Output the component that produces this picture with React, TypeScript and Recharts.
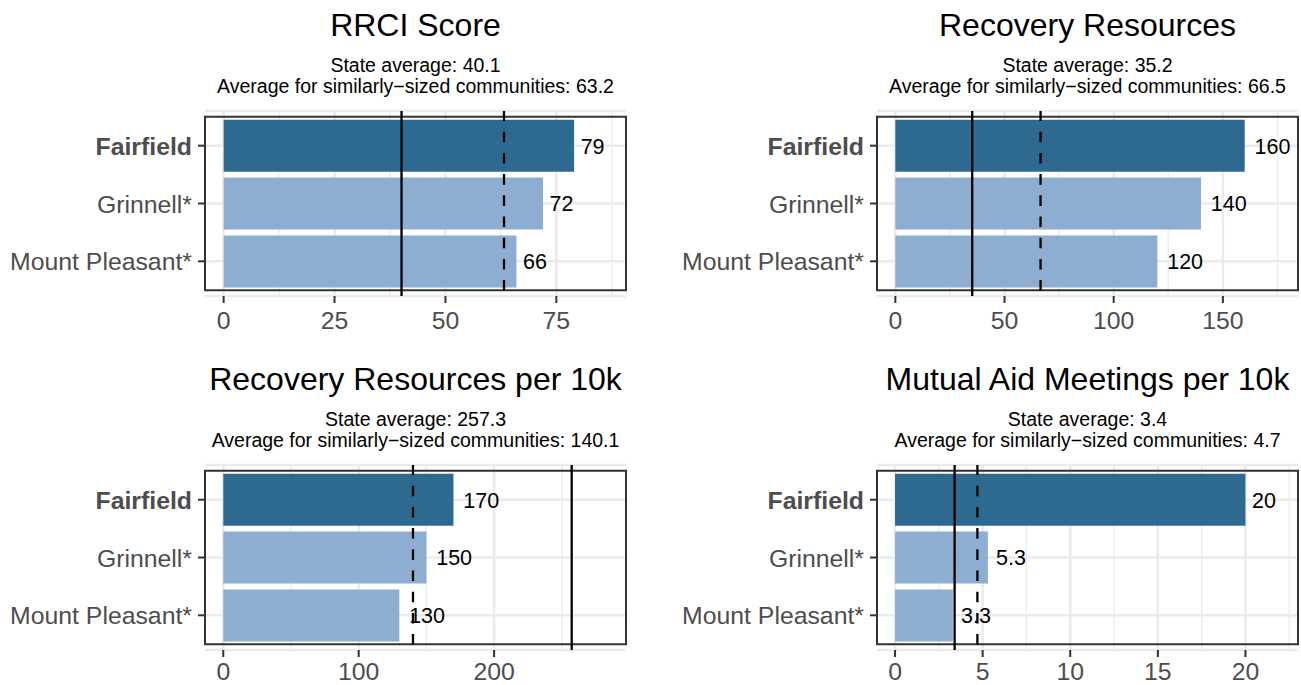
import React from "react";
import {
  BarChart,
  Bar,
  XAxis,
  YAxis,
  CartesianGrid,
  ReferenceLine,
  ReferenceArea,
  Cell,
  LabelList,
} from "recharts";

const communities = ["Fairfield", "Grinnell*", "Mount Pleasant*"];
const highlighted = "Fairfield";

const panelTitles = [
  "RRCI Score",
  "Recovery Resources",
  "Recovery Resources per 10k",
  "Mutual Aid Meetings per 10k",
];
const rrciScores = [79, 72, 66];
const recoveryResources = [160, 140, 120];
const resourcesPer10k = [170, 150, 130];
const meetingsPer10k = [20, 5.3, 3.3];
const stateAverages = [40.1, 35.2, 257.3, 3.4];
const similarAverages = [63.2, 66.5, 140.1, 4.7];
const majorTicks = [
  [0, 25, 50, 75],
  [0, 50, 100, 150],
  [0, 100, 200],
  [0, 5, 10, 15, 20],
];
const minorTicks = [
  [12.5, 37.5, 62.5, 87.5],
  [25, 75, 125, 175],
  [50, 150, 250],
  [2.5, 7.5, 12.5, 17.5, 22.5],
];
const axisLimits = [
  [-4.2, 90.7],
  [-8.4, 184.4],
  [-13.5, 297.4],
  [-1.03, 23.0],
];
const panelValues = [rrciScores, recoveryResources, resourcesPer10k, meetingsPer10k];

const FONT = '"Liberation Sans", Arial, Helvetica, sans-serif';
const DARK = "#2e6a8f";
const LIGHT = "#8daed1";
const GRID = "#ebebeb";
const INK = "#333333";

// rough Arial advance widths, enough to mimic ggplot's hjust on the labels
function textWidth(s: string, size: number) {
  let w = 0;
  for (const ch of s) w += ch === "." ? 0.278 : 0.556;
  return w * size;
}

function ValueLabel(props: any) {
  const { x, y, width, height, value } = props;
  const text = String(value);
  const gap = 0.28 * textWidth(text, 21);
  return (
    <text
      x={Number(x) + Number(width) + gap}
      y={Number(y) + Number(height) / 2 + 7.8}
      fontSize={21.5}
      fontFamily={FONT}
      fill="#000000"
    >
      {text}
    </text>
  );
}

function CommunityTick(props: any) {
  const { x, y, payload } = props;
  return (
    <text
      x={x}
      y={y}
      dy={9}
      textAnchor="end"
      fontSize={24.8}
      fontFamily={FONT}
      fill="#4d4d4d"
      fontWeight={payload.value === highlighted ? "bold" : "normal"}
    >
      {payload.value}
    </text>
  );
}

const PLOT_TOP = 111;
const PLOT_HEIGHT = 185;

function MetricPanel({ index }: { index: number }) {
  const isRight = index % 2 === 1;
  const isBottom = index >= 2;
  const width = isRight ? 651 : 650;
  const height = isBottom ? 331 : 342;
  const axisWidth = isRight ? 227 : 205;
  const rightMargin = isRight ? 3 : 24;
  const domain = axisLimits[index];
  const data = communities.map((name, i) => ({ name, value: panelValues[index][i] }));

  return (
    <BarChart
      width={width}
      height={height}
      data={data}
      layout="vertical"
      margin={{ top: PLOT_TOP, right: rightMargin, bottom: 0, left: 0 }}
    >
      <CartesianGrid
        horizontal={false}
        verticalValues={minorTicks[index]}
        stroke={GRID}
        strokeWidth={1.3}
      />
      <CartesianGrid verticalValues={majorTicks[index]} stroke={GRID} strokeWidth={2.5} />
      <XAxis
        type="number"
        domain={domain}
        allowDataOverflow
        ticks={majorTicks[index]}
        interval={0}
        height={height - PLOT_TOP - PLOT_HEIGHT}
        axisLine={false}
        tickSize={7}
        tickMargin={isBottom ? 5 : 8}
        tickLine={{ stroke: INK, strokeWidth: 2 }}
        tick={{ fontSize: 24.8, fill: "#4d4d4d", fontFamily: FONT }}
      />
      <YAxis
        type="category"
        dataKey="name"
        width={axisWidth}
        padding={{ top: 5.8, bottom: 5.8 }}
        axisLine={false}
        interval={0}
        tickSize={7}
        tickMargin={6}
        tickLine={{ stroke: INK, strokeWidth: 2 }}
        tick={(p: any) => <CommunityTick {...p} />}
      />
      <Bar dataKey="value" barSize={52} isAnimationActive={false}>
        {data.map((d) => (
          <Cell key={d.name} fill={d.name === highlighted ? DARK : LIGHT} />
        ))}
        <LabelList dataKey="value" content={(p: any) => <ValueLabel {...p} />} />
      </Bar>
      <ReferenceLine x={stateAverages[index]} stroke="#000000" strokeWidth={2.3} />
      <ReferenceLine
        x={similarAverages[index]}
        stroke="#000000"
        strokeWidth={2.3}
        strokeDasharray="10.6 10.6"
        strokeDashoffset={15.9}
      />
      <ReferenceArea
        x1={domain[0]}
        x2={domain[1]}
        ifOverflow="visible"
        fill="none"
        fillOpacity={0}
        stroke={INK}
        strokeWidth={2}
      />
    </BarChart>
  );
}

export default function App() {
  const lefts = [0, 650, 0, 650];
  const tops = [0, 0, 354, 354];
  const centers = [415.5, 1087.5, 415.5, 1087.5];

  return (
    <div
      style={{
        position: "absolute",
        left: 0,
        top: 0,
        width: 1301,
        height: 685,
        overflow: "hidden",
        background: "#ffffff",
        fontFamily: FONT,
      }}
    >
      {panelTitles.map((t, i) => (
        <div key={t} style={{ position: "absolute", left: lefts[i], top: tops[i] }}>
          <MetricPanel index={i} />
        </div>
      ))}
      <svg
        width={1301}
        height={685}
        style={{ position: "absolute", left: 0, top: 0, pointerEvents: "none" }}
      >
        {panelTitles.map((t, i) => (
          <g key={t} fontFamily={FONT} textAnchor="middle" fill="#000000">
            <text x={centers[i]} y={tops[i] + 36} fontSize={32}>
              {t}
            </text>
            <text x={centers[i]} y={tops[i] + 71.7} fontSize={19.5}>
              {`State average: ${stateAverages[i]}`}
            </text>
            <text x={centers[i]} y={tops[i] + 92.7} fontSize={19.5}>
              {`Average for similarly\u2212sized communities: ${similarAverages[i]}`}
            </text>
          </g>
        ))}
      </svg>
    </div>
  );
}
